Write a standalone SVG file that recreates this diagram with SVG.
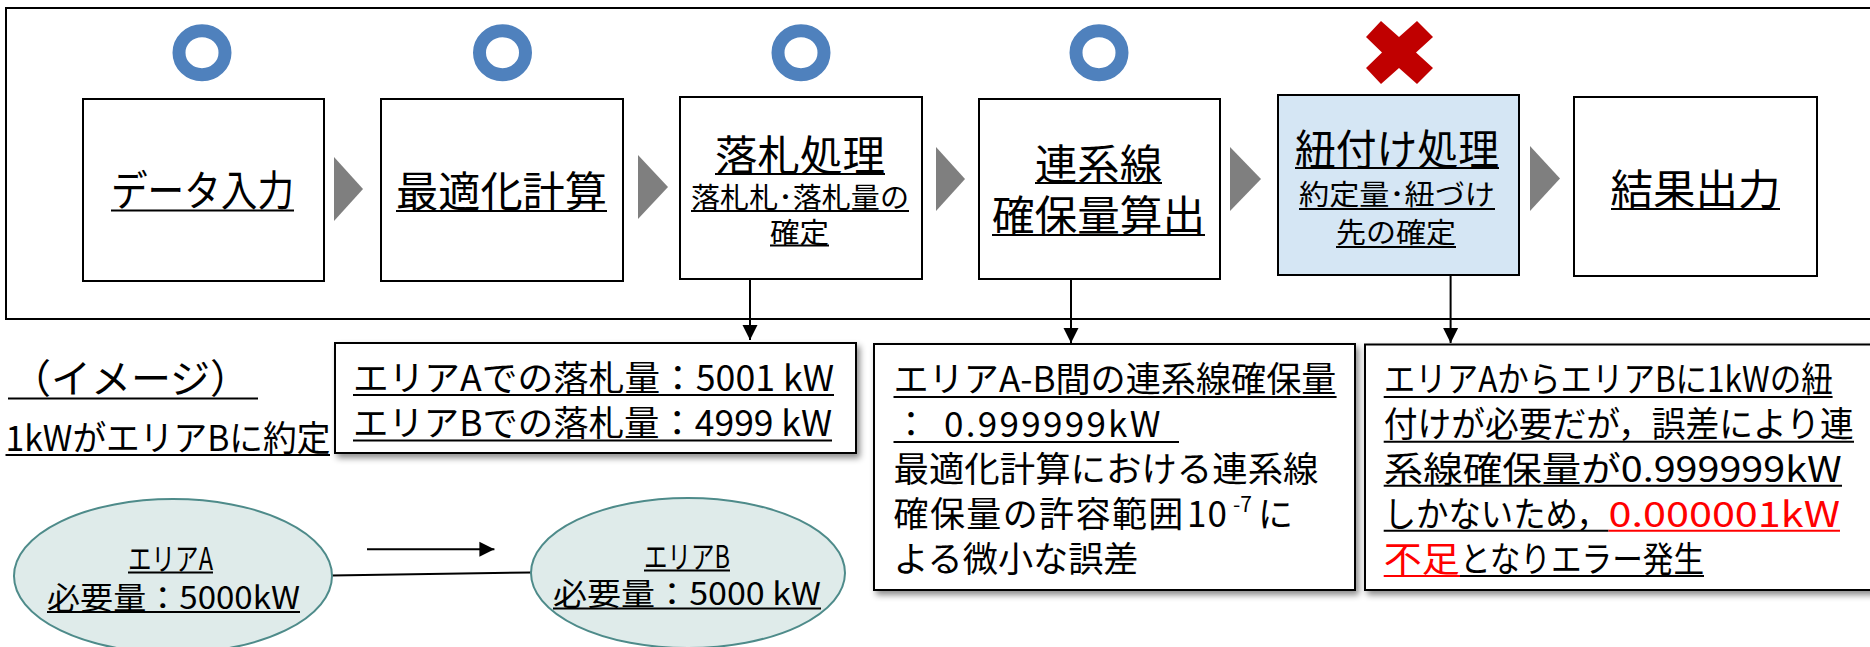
<svg xmlns="http://www.w3.org/2000/svg" width="1870" height="647" viewBox="0 0 1870 647">
<style>
text{font-family:"Noto Sans CJK JP","Noto Sans",sans-serif;fill:#000}
.lg{font-size:42px;text-anchor:middle}
.sm{font-size:28px;text-anchor:middle}
.bd{font-size:35px}
.el{font-size:31px;text-anchor:middle}
.red{fill:#FF0000}
.box{fill:#fff;stroke:#000;stroke-width:2}
.blue{fill:#D5E6F4}
.ring{fill:none;stroke:#4F81BD;stroke-width:13}
.chev{fill:#7F7F7F}
.ul{stroke:#000;stroke-width:2}
.ulr{stroke:#FF0000;stroke-width:2}
.conn{stroke:#000;stroke-width:2;fill:none}
.ell{fill:#DFEBEA;stroke:#4E8B8A;stroke-width:2}
</style>
<defs>
<marker id="ah" markerUnits="userSpaceOnUse" markerWidth="16" markerHeight="16" viewBox="0 0 16 16" refX="15" refY="8" orient="auto"><path d="M0,0.5 L15,8 L0,15.5 Z" fill="#000"/></marker>
<filter id="sh" x="-5%" y="-5%" width="115%" height="125%"><feDropShadow dx="3" dy="4" stdDeviation="3" flood-color="#000" flood-opacity="0.45"/></filter>
</defs>
<rect width="1870" height="647" fill="#fff"/>

<g id="frame"><rect x="6" y="8" width="1880" height="311" fill="none" stroke="#000" stroke-width="2"/></g>

<g id="marks">
<ellipse class="ring" cx="202" cy="52.7" rx="23" ry="22"/>
<ellipse class="ring" cx="502.5" cy="52.7" rx="23" ry="22"/>
<ellipse class="ring" cx="801" cy="52.7" rx="23" ry="22"/>
<ellipse class="ring" cx="1099" cy="52.7" rx="23" ry="22"/>
<polygon fill="#C00000" points="1381,21 1399,37 1417,21 1433,37 1416,52.5 1433,68 1417,84 1399,68 1381,84 1366,68 1382,52.5 1366,37"/>
</g>

<g id="step1">
<rect class="box" x="83" y="99" width="241" height="182"/>
<text class="lg" x="202.5" y="206" textLength="183" lengthAdjust="spacingAndGlyphs">データ入力</text>
<line class="ul" x1="111" y1="210.5" x2="294" y2="210.5"/>
</g>
<g id="step2">
<rect class="box" x="381" y="99" width="242" height="182"/>
<text class="lg" x="501.5" y="207" textLength="211" lengthAdjust="spacingAndGlyphs">最適化計算</text>
<line class="ul" x1="396" y1="211" x2="607" y2="211"/>
</g>
<g id="step3">
<rect class="box" x="680" y="97" width="242" height="182"/>
<text class="lg" x="800" y="171" textLength="170" lengthAdjust="spacingAndGlyphs">落札処理</text>
<line class="ul" x1="715" y1="174" x2="885" y2="174"/>
<text class="sm" x="800" y="208" textLength="218" lengthAdjust="spacingAndGlyphs">落札札･落札量の</text>
<line class="ul" x1="691" y1="211" x2="909" y2="211"/>
<text class="sm" x="799.5" y="243" textLength="59" lengthAdjust="spacingAndGlyphs">確定</text>
<line class="ul" x1="770" y1="245.5" x2="829" y2="245.5"/>
</g>
<g id="step4">
<rect class="box" x="979" y="99" width="241" height="180"/>
<text class="lg" x="1098.5" y="180" textLength="127" lengthAdjust="spacingAndGlyphs">連系線</text>
<line class="ul" x1="1035" y1="183" x2="1162" y2="183"/>
<text class="lg" x="1098.5" y="231" textLength="213" lengthAdjust="spacingAndGlyphs">確保量算出</text>
<line class="ul" x1="992" y1="235" x2="1205" y2="235"/>
</g>
<g id="step5">
<rect class="box blue" x="1278" y="95" width="241" height="180"/>
<text class="lg" x="1397" y="165" textLength="204" lengthAdjust="spacingAndGlyphs">紐付け処理</text>
<line class="ul" x1="1295" y1="168" x2="1499" y2="168"/>
<text class="sm" x="1397" y="205" textLength="196" lengthAdjust="spacingAndGlyphs">約定量･紐づけ</text>
<line class="ul" x1="1299" y1="209" x2="1495" y2="209"/>
<text class="sm" x="1396" y="243" textLength="120" lengthAdjust="spacingAndGlyphs">先の確定</text>
<line class="ul" x1="1336" y1="247" x2="1456" y2="247"/>
</g>
<g id="step6">
<rect class="box" x="1574" y="97" width="243" height="179"/>
<text class="lg" x="1695.5" y="205" textLength="170" lengthAdjust="spacingAndGlyphs">結果出力</text>
<line class="ul" x1="1611" y1="209" x2="1780" y2="209"/>
</g>

<g id="connectors">
<polygon class="chev" points="334,157 363,189 334,221"/>
<polygon class="chev" points="638,155 668,187 638,219"/>
<polygon class="chev" points="936,147 965,179 936,211"/>
<polygon class="chev" points="1230,147 1261,179 1230,211"/>
<polygon class="chev" points="1530,146 1560,178.5 1530,211"/>
<line class="conn" x1="750" y1="280" x2="750" y2="340" marker-end="url(#ah)"/>
<line class="conn" x1="1071" y1="280" x2="1071" y2="343" marker-end="url(#ah)"/>
<line class="conn" x1="1450.6" y1="275" x2="1450.6" y2="343" marker-end="url(#ah)"/>
<line class="conn" x1="367" y1="549.3" x2="494.4" y2="549.3" marker-end="url(#ah)"/>
<line class="conn" x1="331.5" y1="575.5" x2="531.5" y2="572.5" stroke-width="2.5"/>
</g>

<g id="image-label">
<text x="130.5" y="393" font-size="40" text-anchor="middle">（イメージ）</text>
<line class="ul" x1="8" y1="398.5" x2="258" y2="398.5"/>
<text class="bd" x="5.5" y="451" textLength="325" lengthAdjust="spacingAndGlyphs">1kWがエリアBに約定</text>
<line class="ul" x1="5.5" y1="455" x2="330" y2="455"/>
</g>

<g id="note-bid">
<rect class="box" x="335" y="343" width="521" height="110" filter="url(#sh)"/>
<text class="bd" x="353" y="391" textLength="481" lengthAdjust="spacingAndGlyphs">エリアAでの落札量：5001 kW</text>
<line class="ul" x1="353" y1="395" x2="834" y2="395"/>
<text class="bd" x="353" y="436" textLength="479" lengthAdjust="spacingAndGlyphs">エリアBでの落札量：4999 kW</text>
<line class="ul" x1="353" y1="440.5" x2="832" y2="440.5"/>
</g>

<g id="note-capacity">
<rect class="box" x="874" y="344" width="481" height="246" filter="url(#sh)"/>
<text class="bd" x="893.5" y="392" textLength="443" lengthAdjust="spacingAndGlyphs">エリアA-B間の連系線確保量</text>
<line class="ul" x1="893.5" y1="397" x2="1336.6" y2="397"/>
<text class="bd" x="893.5" y="437">：<tspan x="944" letter-spacing="2.3">0.999999kW</tspan></text>
<line class="ul" x1="893.5" y1="442" x2="1179" y2="442"/>
<text class="bd" x="893.5" y="482" textLength="425" lengthAdjust="spacingAndGlyphs">最適化計算における連系線</text>
<text class="bd" x="893.5" y="527" letter-spacing="1.4">確保量の許容範囲<tspan x="1187" letter-spacing="1">10</tspan><tspan x="1233" dy="-15" font-size="21" letter-spacing="0">-7</tspan><tspan x="1258" dy="15" letter-spacing="0">に</tspan></text>
<text class="bd" x="893.5" y="572" textLength="245" lengthAdjust="spacingAndGlyphs">よる微小な誤差</text>
</g>

<g id="note-error">
<rect class="box" x="1365" y="344.5" width="520" height="245.5" filter="url(#sh)"/>
<text class="bd" x="1383.7" y="392" textLength="449" lengthAdjust="spacingAndGlyphs">エリアAからエリアBに1kWの紐</text>
<line class="ul" x1="1383.7" y1="397" x2="1832.6" y2="397"/>
<text class="bd" x="1383.7" y="437" textLength="470" lengthAdjust="spacingAndGlyphs">付けが必要だが，誤差により連</text>
<line class="ul" x1="1383.7" y1="441.7" x2="1854" y2="441.7"/>
<text class="bd" x="1383.7" y="482" textLength="458" lengthAdjust="spacingAndGlyphs">系線確保量が0.999999kW</text>
<line class="ul" x1="1383.7" y1="485.7" x2="1842" y2="485.7"/>
<text class="bd" x="1383.7" y="527" textLength="225" lengthAdjust="spacingAndGlyphs">しかないため，</text>
<line class="ul" x1="1383.7" y1="530.7" x2="1608.5" y2="530.7"/>
<text class="bd red" x="1608.5" y="527" textLength="231.5" lengthAdjust="spacingAndGlyphs">0.000001kW</text>
<line class="ulr" x1="1608.5" y1="530.7" x2="1840" y2="530.7"/>
<text class="bd red" x="1383.7" y="572" textLength="76" lengthAdjust="spacingAndGlyphs">不足</text>
<line class="ulr" x1="1383.7" y1="576" x2="1460" y2="576"/>
<text class="bd" x="1460" y="572" textLength="244" lengthAdjust="spacingAndGlyphs">となりエラー発生</text>
<line class="ul" x1="1460" y1="576" x2="1704" y2="576"/>
</g>

<g id="area-a">
<ellipse class="ell" cx="173" cy="576" rx="159" ry="77"/>
<text class="el" x="170.5" y="570" textLength="85" lengthAdjust="spacingAndGlyphs">エリアA</text>
<line class="ul" x1="128" y1="572.5" x2="213" y2="572.5"/>
<text class="el" x="173.5" y="609" textLength="253" lengthAdjust="spacingAndGlyphs">必要量：5000kW</text>
<line class="ul" x1="47" y1="612" x2="300" y2="612" stroke-width="2.5"/>
</g>
<g id="area-b">
<ellipse class="ell" cx="688" cy="573" rx="157" ry="75"/>
<text class="el" x="687" y="568" textLength="86" lengthAdjust="spacingAndGlyphs">エリアB</text>
<line class="ul" x1="644" y1="570.5" x2="730" y2="570.5"/>
<text class="el" x="687" y="605" textLength="268" lengthAdjust="spacingAndGlyphs">必要量：5000 kW</text>
<line class="ul" x1="553" y1="608.5" x2="821" y2="608.5" stroke-width="2.5"/>
</g>
</svg>
